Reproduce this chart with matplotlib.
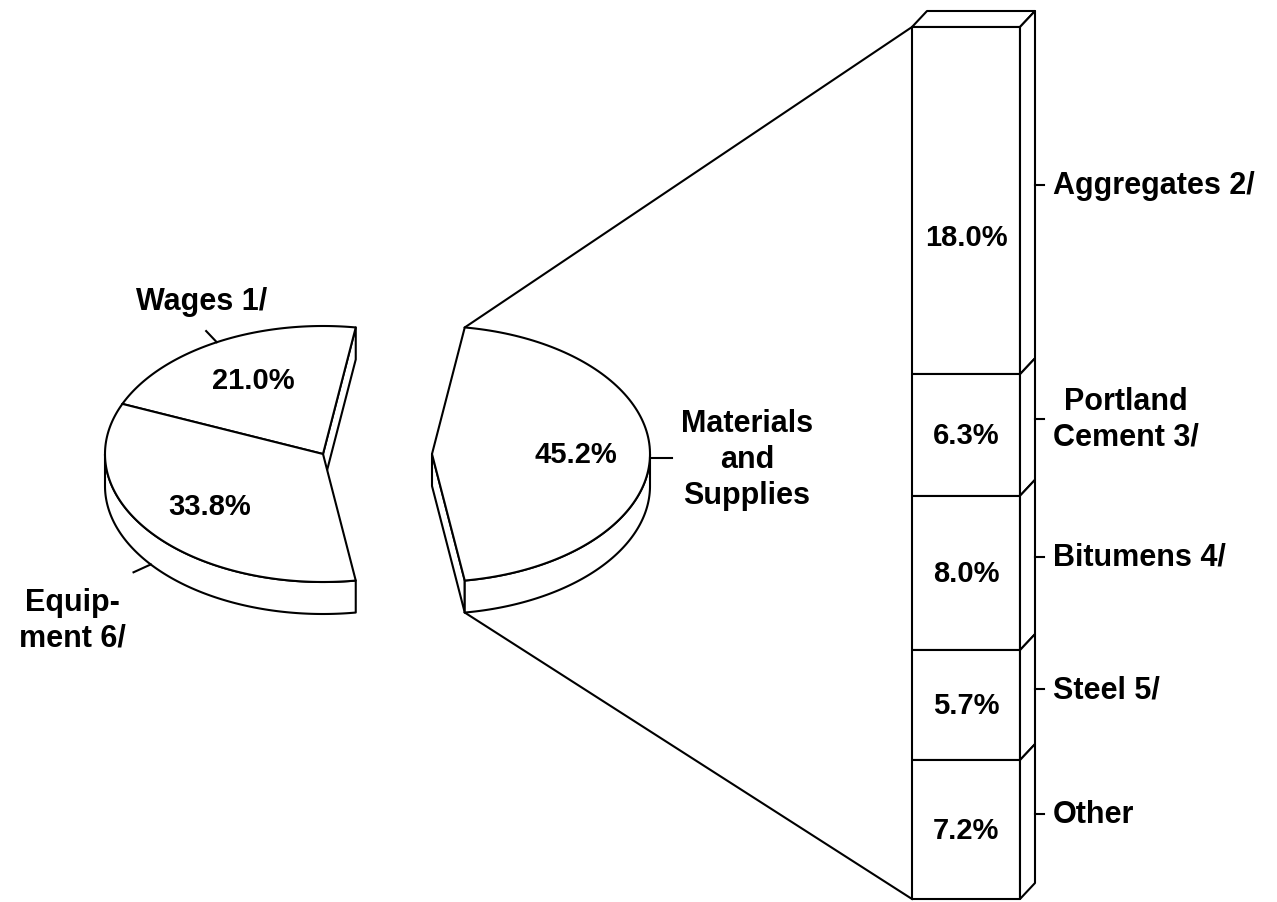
import numpy as np
import matplotlib.pyplot as plt
from matplotlib.patches import Polygon

plt.rcParams['font.family'] = ['Liberation Sans', 'DejaVu Sans']

# data
pie_labels = ["Materials\nand\nSupplies", "Wages 1/", "Equip-\nment 6/"]
pie_shares = [45.2, 21.0, 33.8]
bar_labels = ["Aggregates 2/", "Portland\nCement 3/", "Bitumens 4/", "Steel 5/", "Other"]
bar_shares = [18.0, 6.3, 8.0, 5.7, 7.2]

# layout (pixel space of the picture)
CX, CY = 323, 455        # pie centre
RX, RY = 218, 128        # ellipse radii
THICK = 32               # pie thickness
EXPLODE = 109            # how far the first slice is pulled out
BAR_X0, BAR_X1 = 912, 1020
BAR_TOP, BAR_BOT = 28, 900
DEPTH = (15, -16)
LW = 1.5
FS = 22


def rim(cx, cy, th, k=1.0):
    t = np.radians(th)
    return np.array([cx + k * RX * np.cos(t), cy - k * RY * np.sin(t)])


def arc(cx, cy, t0, t1, drop=0.0):
    ths = np.linspace(t0, t1, 120)
    pts = np.array([rim(cx, cy, t) for t in ths])
    pts[:, 1] += drop
    return pts


def add_poly(ax, pts, z):
    ax.add_patch(Polygon(pts, closed=True, fc='white', ec='black', lw=LW,
                         joinstyle='round', zorder=z))


def front_ranges(t0, t1):
    # parts of [t0, t1] where the outer wall faces the viewer
    out = []
    for k in (-360, 0, 360):
        lo, hi = max(t0, 180 + k), min(t1, 360 + k)
        if hi > lo:
            out.append((lo, hi))
    return out


fig = plt.figure(figsize=(12.77, 9.03), dpi=100)
ax = fig.add_axes([0, 0, 1, 1])
ax.set_xlim(0, 1277)
ax.set_ylim(903, 0)
ax.axis('off')

# slice angles, first slice centred on 0 deg
start = -pie_shares[0] / 100 * 180
edges = start + np.concatenate([[0], np.cumsum(pie_shares)]) / 100 * 360
slices = []
for i in range(len(pie_shares)):
    t0, t1 = edges[i], edges[i + 1]
    mid = (t0 + t1) / 2
    off = EXPLODE if i == 0 else 0
    cx = CX + off * np.cos(np.radians(mid))
    cy = CY - off * np.sin(np.radians(mid))
    slices.append((t0, t1, mid, cx, cy))

# cut faces, only those turned towards the viewer
for t0, t1, mid, cx, cy in slices:
    apex = np.array([cx, cy])
    for t, normal in ((t0, t0 - 90), (t1, t1 + 90)):
        if np.sin(np.radians(normal)) >= 0:
            continue
        p = rim(cx, cy, t)
        add_poly(ax, [apex, p, p + [0, THICK], apex + [0, THICK]], 1)

# outer walls
for t0, t1, mid, cx, cy in slices:
    for lo, hi in front_ranges(t0, t1):
        top = arc(cx, cy, lo, hi)
        bot = arc(cx, cy, lo, hi, THICK)[::-1]
        add_poly(ax, np.vstack([top, bot]), 2)

# tops
for t0, t1, mid, cx, cy in slices:
    add_poly(ax, np.vstack([[cx, cy], arc(cx, cy, t0, t1)]), 3)

# percent labels on the pie
for share, (t0, t1, mid, cx, cy) in zip(pie_shares, slices):
    x, y = rim(cx, cy, mid, 0.66)
    ax.text(x, y, f"{share:.1f}%", ha='center', va='center',
            fontsize=FS - 1, fontweight='bold', zorder=5)

# leaders and outer labels
label_pos = [(747, 460), (202, 302), (72, 621)]
for i, (t0, t1, mid, cx, cy) in enumerate(slices):
    drop = THICK if np.sin(np.radians(mid)) < -0.3 else 0
    p0 = rim(cx, cy, mid) + [0, drop]
    p1 = rim(cx, cy, mid, 1.1) + [0, drop]
    ax.plot([p0[0], p1[0]], [p0[1] + 4, p1[1] + 4] if drop == 0 and i == 0
            else [p0[1], p1[1]], color='black', lw=LW, zorder=4)
    ax.text(*label_pos[i], pie_labels[i], ha='center', va='center',
            multialignment='center', fontsize=FS, fontweight='bold',
            linespacing=1.25, zorder=5)

# lines from the exploded slice to the bar
t0, t1, mid, cx, cy = slices[0]
ptop = rim(cx, cy, t1)
pbot = rim(cx, cy, t0) + [0, THICK]
ax.plot([ptop[0], BAR_X0], [ptop[1], BAR_TOP], color='black', lw=LW, zorder=0)
ax.plot([pbot[0], BAR_X0], [pbot[1], BAR_BOT], color='black', lw=LW, zorder=0)

# stacked bar
dx, dy = DEPTH
scale = (BAR_BOT - BAR_TOP) / sum(bar_shares)
bounds = BAR_TOP + np.concatenate([[0], np.cumsum(bar_shares)]) * scale
add_poly(ax, [(BAR_X0, BAR_TOP), (BAR_X1, BAR_TOP), (BAR_X1 + dx, BAR_TOP + dy),
              (BAR_X0 + dx, BAR_TOP + dy)], 3)
pct_dy = [36, 0, 0, 0, 0]
for i, share in enumerate(bar_shares):
    y0, y1 = bounds[i], bounds[i + 1]
    add_poly(ax, [(BAR_X0, y0), (BAR_X1, y0), (BAR_X1, y1), (BAR_X0, y1)], 3)
    add_poly(ax, [(BAR_X1, y0), (BAR_X1 + dx, y0 + dy), (BAR_X1 + dx, y1 + dy),
                  (BAR_X1, y1)], 3)
    ym = (y0 + y1) / 2
    ax.text((BAR_X0 + BAR_X1) / 2, ym + pct_dy[i], f"{share:.1f}%", ha='center',
            va='center', fontsize=FS - 1, fontweight='bold', zorder=5)
    ys = ym + dy
    ax.plot([BAR_X1 + dx, BAR_X1 + dx + 9], [ys, ys], color='black', lw=LW, zorder=4)
    ax.text(BAR_X1 + dx + 18, ys, bar_labels[i], ha='left', va='center',
            multialignment='center', fontsize=FS, fontweight='bold',
            linespacing=1.25, zorder=5)

fig.savefig('out.png', dpi=100, facecolor='white')
